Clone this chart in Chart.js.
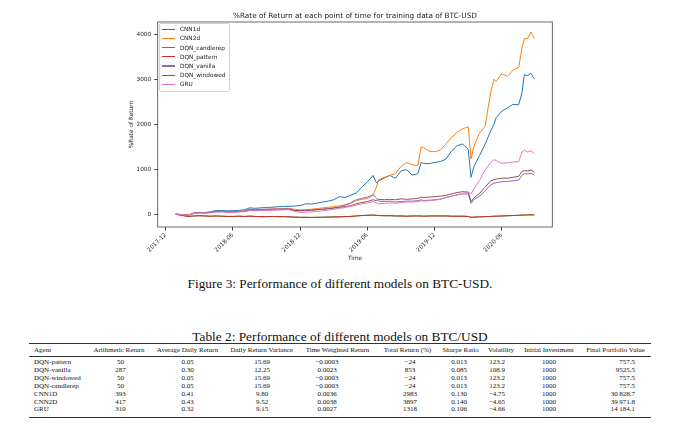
<!DOCTYPE html>
<html>
<head>
<meta charset="utf-8">
<script src="https://cdn.jsdelivr.net/npm/chart.js@4.4.0/dist/chart.umd.min.js"></script>
<style>
  body { margin: 0; background: #fff; width: 680px; height: 430px; position: relative; overflow: hidden; }
  #wrap { position: absolute; left: 0; top: 0; width: 680px; height: 270px; }
  #plotTitle { position: absolute; left: 355px; top: 11.5px; transform: translateX(-50%); white-space: nowrap;
    font: 7.3px/8px 'DejaVu Sans'; color: #222; }
  #legend { position: absolute; left: 159.3px; top: 23.3px; width: 69px; height: 66.4px; padding-top: 0.4px;
    border: 1px solid #d4d4d4; border-radius: 2px; background: rgba(255,255,255,0.8); }
  .lg { height: 9.2px; display: flex; align-items: center; font: 5.8px 'DejaVu Sans'; color: #222; white-space: nowrap; }
  .lg i { display: inline-block; width: 12.7px; height: 1.2px; margin: 0 5px 0 2px; }
  .cap { position: absolute; left: 340px; transform: translateX(-50%); white-space: nowrap;
    font: 13.3px/15px 'Liberation Serif'; color: #111; }
  .rule { position: absolute; left: 28.5px; width: 622.5px; background: #333; }
  .cell { position: absolute; white-space: nowrap; font: 7px/8px 'Liberation Serif'; color: #111; }
</style>
</head>
<body>
<div id="wrap"><canvas id="returnChart" width="680" height="270"></canvas></div>
<div id="plotTitle">%Rate of Return at each point of time for training data of BTC-USD</div>
<div id="legend"></div>
<div class="cap" style="top:275.5px">Figure 3: Performance of different models on BTC-USD.</div>
<div class="cap" style="top:328.5px">Table 2: Performance of different models on BTC/USD</div>
<div class="rule" style="top:342.8px;height:1px"></div>
<div class="rule" style="top:355.8px;height:0.6px"></div>
<div class="rule" style="top:416.6px;height:1px"></div>
<div id="table"></div>
<script>
// time axis in months counted from 2017-12
const months = [0.9, 1.5, 2, 2.5, 3, 3.5, 4, 4.5, 5, 5.5, 6, 6.5, 7, 7.5, 8, 8.5, 9, 9.5, 10, 10.5,
  11, 11.5, 12, 12.5, 13, 13.5, 14, 14.5, 15, 15.5, 16, 16.5, 17, 17.5, 18, 18.5, 18.8, 19, 19.5, 20,
  20.5, 21, 21.5, 22, 22.5, 22.8, 23, 23.5, 24, 24.5, 25, 25.5, 26, 26.5, 27, 27.25, 27.5, 28, 28.5, 29,
  29.3, 29.5, 30, 30.5, 31, 31.5, 31.8, 32, 32.3, 32.6, 32.9];

const cnn1d = [0, -10, -20, 25, 40, 35, 55, 80, 80, 75,
  75, 85, 95, 140, 130, 140, 150, 155, 165, 170,
  175, 180, 190, 230, 225, 245, 270, 290, 320, 390,
  370, 420, 470, 600, 720, 860, 700, 740, 800, 860,
  800, 960, 990, 870, 900, 1150, 1130, 1120, 1150, 1170,
  1220, 1400, 1520, 1560, 1440, 820, 1050, 1300, 1550, 1850,
  2000, 2150, 2290, 2360, 2440, 2430, 2700, 3100, 3080, 3130,
  3000];
const cnn2d = [0, -10, -20, 20, 35, 30, 45, 60, 60, 55,
  50, 60, 70, 100, 95, 100, 110, 115, 120, 125,
  130, 110, 95, 100, 110, 125, 140, 150, 170, 185,
  210, 240, 300, 330, 350, 420, 600, 760, 820, 860,
  900, 1060, 1150, 1100, 1080, 1500, 1480, 1400, 1390, 1420,
  1560, 1700, 1820, 1900, 1940, 1230, 1500, 1800, 1950, 2700,
  3000, 2950, 3120, 3060, 3200, 3260, 3700, 3900, 3900, 4050,
  3900];
const dqnCandlerep = [0, -30, -50, -40, -35, -40, -45, -40, -45, -50,
  -50, -45, -50, -45, -50, -55, -55, -50, -55, -55,
  -60, -65, -70, -70, -72, -70, -68, -65, -62, -60,
  -55, -50, -40, -30, -25, -20, -25, -30, -35, -35,
  -40, -40, -45, -40, -40, -40, -45, -40, -40, -40,
  -40, -45, -45, -45, -50, -70, -65, -60, -55, -50,
  -45, -45, -40, -35, -30, -25, -20, -20, -15, -15,
  -15];
const dqnPattern = [0, -30, -50, -40, -35, -40, -45, -40, -45, -50,
  -50, -45, -50, -45, -50, -55, -55, -50, -55, -55,
  -60, -65, -70, -70, -72, -70, -68, -65, -62, -60,
  -55, -50, -40, -30, -25, -20, -25, -30, -35, -35,
  -40, -40, -45, -40, -40, -40, -45, -40, -40, -40,
  -40, -45, -45, -45, -50, -70, -65, -60, -55, -50,
  -45, -45, -40, -35, -30, -25, -20, -20, -15, -15,
  -15];
const dqnVanilla = [0, -10, -25, 20, 35, 30, 40, 65, 60, 55,
  55, 60, 70, 110, 100, 105, 110, 115, 115, 120,
  125, 80, 75, 80, 85, 100, 110, 125, 140, 160,
  200, 250, 320, 350, 380, 430, 360, 290, 280, 290,
  270, 280, 290, 290, 300, 320, 300, 310, 320, 330,
  370, 400, 430, 450, 450, 240, 320, 400, 520, 650,
  690, 700, 720, 730, 740, 760, 860, 900, 890, 910,
  870];
const dqnWindowed = [0, -10, -25, 15, 30, 30, 35, 55, 55, 50,
  50, 55, 60, 90, 85, 90, 95, 95, 100, 100,
  105, 85, 80, 85, 90, 100, 110, 120, 135, 150,
  170, 190, 230, 260, 280, 320, 300, 330, 320, 330,
  320, 340, 330, 340, 350, 380, 370, 380, 390, 400,
  420, 450, 480, 500, 490, 280, 360, 460, 600, 740,
  770, 780, 800, 800, 820, 840, 950, 970, 960, 980,
  930];
const gru = [0, -10, -25, 15, 30, 25, 30, 50, 50, 45,
  45, 50, 55, 80, 75, 80, 85, 90, 95, 100,
  100, 60, 40, 45, 50, 60, 75, 90, 110, 130,
  150, 170, 200, 230, 250, 280, 250, 230, 240, 250,
  240, 260, 270, 270, 280, 300, 290, 300, 310, 330,
  370, 400, 430, 460, 490, 450, 560, 750, 980, 1150,
  1210, 1190, 1130, 1140, 1160, 1170, 1380, 1420, 1380, 1410,
  1340];

const seriesNames = ['CNN1d', 'CNN2d', 'DQN_candlerep', 'DQN_pattern', 'DQN_vanilla', 'DQN_windowed', 'GRU'];
const seriesValues = [cnn1d, cnn2d, dqnCandlerep, dqnPattern, dqnVanilla, dqnWindowed, gru];
const seriesColors = ['#1f77b4', '#ff7f0e', '#2ca02c', '#d62728', '#9467bd', '#8c564b', '#e377c2'];

const xTickMonths = [0, 6, 12, 18, 24, 30];
const xTickLabels = ['2017-12', '2018-06', '2018-12', '2019-06', '2019-12', '2020-06'];
const yTicks = [0, 1000, 2000, 3000, 4000];

// table data
const tableHeaders = ['Agent', 'Arithmetic Return', 'Average Daily Return', 'Daily Return Variance',
  'Time Weighted Return', 'Total Return (%)', 'Sharpe Ratio', 'Volatility', 'Initial Investment', 'Final Portfolio Value'];
const agents = ['DQN-pattern', 'DQN-vanilla', 'DQN-windowed', 'DQN-candlerep', 'CNN1D', 'CNN2D', 'GRU'];
const arithmeticReturn = ['50', '287', '50', '50', '393', '417', '310'];
const avgDailyReturn = ['0.05', '0.30', '0.05', '0.05', '0.41', '0.43', '0.32'];
const dailyReturnVariance = ['15.69', '12.25', '15.69', '15.69', '9.80', '9.52', '9.15'];
const timeWeightedReturn = ['\u22120.0003', '0.0023', '\u22120.0003', '\u22120.0003', '0.0036', '0.0038', '0.0027'];
const totalReturn = ['\u221224', '853', '\u221224', '\u221224', '2983', '3897', '1318'];
const sharpeRatio = ['0.013', '0.085', '0.013', '0.013', '0.130', '0.140', '0.106'];
const volatility = ['123.2', '108.9', '123.2', '123.2', '\u22124.75', '\u22124.65', '\u22124.66'];
const initialInvestment = ['1000', '1000', '1000', '1000', '1000', '1000', '1000'];
const finalPortfolioValue = ['757.5', '9525.5', '757.5', '757.5', '30\u2009828.7', '39\u2009971.8', '14\u2009184.1'];

Chart.defaults.font.family = 'DejaVu Sans';
Chart.defaults.color = '#262626';

const frame = {
    id: 'frame',
    afterDatasetsDraw(chart) {
        const { ctx, chartArea: a } = chart;
        ctx.save();
        ctx.strokeStyle = '#444';
        ctx.lineWidth = 0.8;
        ctx.strokeRect(a.left, a.top, a.right - a.left, a.bottom - a.top);
        ctx.restore();
    }
};

const ctx = document.getElementById('returnChart').getContext('2d');
const chart = new Chart(ctx, {
    type: 'line',
    data: {
        datasets: seriesNames.map((name, i) => ({
            label: name,
            data: seriesValues[i].map((v, j) => ({ x: months[j], y: v })),
            borderColor: seriesColors[i],
            backgroundColor: seriesColors[i],
            borderWidth: 1,
            pointRadius: 0,
            fill: false,
            order: seriesNames.length - i
        }))
    },
    options: {
        responsive: false,
        animation: false,
        layout: { padding: { left: 124, right: 127.7, top: 22, bottom: 0 } },
        plugins: { legend: { display: false }, tooltip: { enabled: false } },
        scales: {
            x: {
                type: 'linear',
                min: -0.71,
                max: 34.5,
                afterBuildTicks: s => { s.ticks = xTickMonths.map(v => ({ value: v })); },
                afterFit: s => { s.height = 43; },
                ticks: {
                    autoSkip: false, minRotation: 45, maxRotation: 45, padding: 1,
                    font: { size: 5.8 },
                    callback: (v, i) => xTickLabels[i]
                },
                grid: { color: 'rgba(0,0,0,0)', tickColor: '#444', tickLength: 3.5, drawOnChartArea: false },
                border: { display: false },
                title: { display: true, text: 'Time', font: { size: 5.8 }, padding: { top: 0, bottom: 8 } }
            },
            y: {
                min: -285,
                max: 4270,
                afterBuildTicks: s => { s.ticks = yTicks.map(v => ({ value: v })); },
                afterFit: s => { s.width = 33.7; },
                ticks: { padding: 3, font: { size: 5.8 }, callback: v => String(v) },
                grid: { color: 'rgba(0,0,0,0)', tickColor: '#444', tickLength: 3.5, drawOnChartArea: false },
                border: { display: false },
                title: { display: true, text: '%Rate of Return', font: { size: 5.8 }, padding: { top: 4, bottom: 0 } }
            }
        }
    },
    plugins: [frame]
});

// legend built from the datasets
const legend = document.getElementById('legend');
chart.data.datasets.forEach(ds => {
    const row = document.createElement('div');
    row.className = 'lg';
    row.innerHTML = '<i style="background:' + ds.borderColor + '"></i>' + ds.label;
    legend.appendChild(row);
});

// table
const headerX = [34, 119, 187.5, 261.7, 337.5, 407.5, 460.5, 501, 549, 615.5];
const valueX = [34, 120.5, 187.5, 262, 327, 410, 459, 497, 549, 635];
const valueAlign = ['left', 'center', 'center', 'center', 'center', 'center', 'center', 'center', 'center', 'right'];
const columns = [agents, arithmeticReturn, avgDailyReturn, dailyReturnVariance, timeWeightedReturn,
    totalReturn, sharpeRatio, volatility, initialInvestment, finalPortfolioValue];
const table = document.getElementById('table');
function cell(text, x, yCenter, align) {
    const d = document.createElement('div');
    d.className = 'cell';
    d.textContent = text;
    d.style.left = x + 'px';
    d.style.top = (yCenter - 4) + 'px';
    if (align === 'center') d.style.transform = 'translateX(-50%)';
    if (align === 'right') d.style.transform = 'translateX(-100%)';
    table.appendChild(d);
}
tableHeaders.forEach((h, c) => cell(h, headerX[c], 350, c === 0 ? 'left' : 'center'));
agents.forEach((a, r) => {
    columns.forEach((col, c) => cell(col[r], valueX[c], 362 + r * 7.9, valueAlign[c]));
});
</script>
</body>
</html>
